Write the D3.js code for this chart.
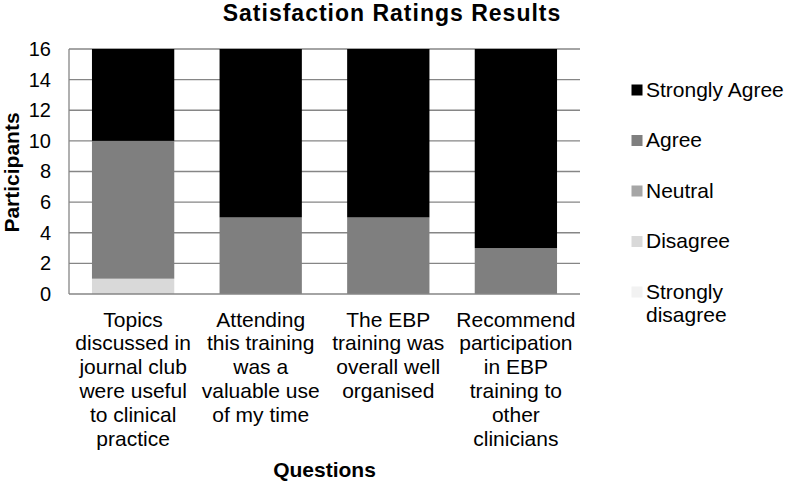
<!DOCTYPE html>
<html><head><meta charset="utf-8">
<script src="https://cdn.jsdelivr.net/npm/d3@7"></script>
<style>
body{margin:0;background:#fff;}
svg{display:block;font-family:"Liberation Sans",Arial,sans-serif;}
</style></head>
<body><svg id="c" width="787" height="482"></svg>
<script>
const categories = ["Q1","Q2","Q3","Q4"];
const categoryLabels = [
  ["Topics","discussed in","journal club","were useful","to clinical","practice"],
  ["Attending","this training","was a","valuable use","of my time"],
  ["The EBP","training was","overall well","organised"],
  ["Recommend","participation","in EBP","training to","other","clinicians"]
];
const seriesNames = ["Strongly disagree","Disagree","Neutral","Agree","Strongly Agree"];
const stronglyDisagree = [0,0,0,0];
const disagree = [1,0,0,0];
const neutral = [0,0,0,0];
const agree = [9,5,5,3];
const stronglyAgree = [6,11,11,13];
const seriesColors = ["#f2f2f2","#d9d9d9","#a6a6a6","#7f7f7f","#000000"];
const yTicks = [0,2,4,6,8,10,12,14,16];
const title = "Satisfaction Ratings Results";
const xTitle = "Questions";
const yTitle = "Participants";

const seriesValues = [stronglyDisagree, disagree, neutral, agree, stronglyAgree];
const rows = categories.map((c,i)=>{
  const r = {cat:c};
  seriesNames.forEach((s,j)=>r[s]=seriesValues[j][i]);
  return r;
});
const stack = d3.stack().keys(seriesNames)(rows);

const svg = d3.select("#c");
const m = {left:69, right:207, top:49, bottom:188};
const W = 787, H = 482;
const x = d3.scaleBand().domain(categories).range([m.left, W-m.right]).paddingInner(0.355).paddingOuter(0.18);
const y = d3.scaleLinear().domain([0,16]).range([H-m.bottom, m.top]);

// gridlines
svg.append("g").selectAll("line").data(yTicks.filter(t=>t>0)).join("line")
  .attr("x1", m.left).attr("x2", W-m.right)
  .attr("y1", d=>y(d)).attr("y2", d=>y(d))
  .attr("stroke","#868686").attr("stroke-width",1.3);

// bars
svg.append("g").selectAll("g").data(stack).join("g")
  .attr("fill",(d,i)=>seriesColors[i])
  .selectAll("rect").data(d=>d).join("rect")
  .attr("x", d=>x(d.data.cat)).attr("width", x.bandwidth())
  .attr("y", d=>y(d[1])).attr("height", d=>y(d[0])-y(d[1]));

// axes lines
svg.append("line").attr("x1",m.left).attr("x2",m.left).attr("y1",m.top).attr("y2",y(0))
  .attr("stroke","#868686").attr("stroke-width",1.3);
svg.append("line").attr("x1",m.left).attr("x2",W-m.right).attr("y1",y(0)).attr("y2",y(0))
  .attr("stroke","#868686").attr("stroke-width",1.5);

// y axis labels
const yAxis = d3.axisLeft(y).tickValues(yTicks).tickSize(0).tickPadding(18);
const ya = svg.append("g").attr("transform",`translate(${m.left},0)`).call(yAxis);
ya.select(".domain").remove();
ya.selectAll("text").attr("font-size",20).attr("fill","#000").attr("font-family","Liberation Sans, Arial, sans-serif");

// x category labels
const xl = svg.append("g");
categories.forEach((c,i)=>{
  const t = xl.append("text").attr("text-anchor","middle").attr("font-size",21).attr("fill","#000");
  categoryLabels[i].forEach((line,k)=>{
    t.append("tspan").attr("x", x(c)+x.bandwidth()/2).attr("y", 326.5 + k*23.9).text(line);
  });
});

// titles
svg.append("text").attr("x",392).attr("y",21).attr("text-anchor","middle")
  .attr("font-size",23).attr("letter-spacing","1px").attr("font-weight","bold").attr("fill","#000").text(title);
svg.append("text").attr("x",(m.left+W-m.right)/2).attr("y",477).attr("text-anchor","middle")
  .attr("font-size",21).attr("font-weight","bold").attr("fill","#000").text(xTitle);
svg.append("text").attr("transform",`translate(18.5,${(m.top+y(0))/2+1}) rotate(-90)`).attr("text-anchor","middle")
  .attr("font-size",21).attr("font-weight","bold").attr("fill","#000").text(yTitle);

// legend
const legendOrder = seriesNames.slice().reverse();
const legendColors = seriesColors.slice().reverse();
const lg = svg.append("g");
legendOrder.forEach((s,i)=>{
  const cy = 89.5 + i*50.5;
  lg.append("rect").attr("x",631.5).attr("y",cy-5).attr("width",11).attr("height",11).attr("fill",legendColors[i]);
  const words = s==="Strongly disagree" ? ["Strongly","disagree"] : [s];
  const t = lg.append("text").attr("font-size",21).attr("fill","#000");
  words.forEach((w,k)=>{
    t.append("tspan").attr("x",646).attr("y",cy+7+k*23.5).text(w);
  });
});
</script></body></html>
